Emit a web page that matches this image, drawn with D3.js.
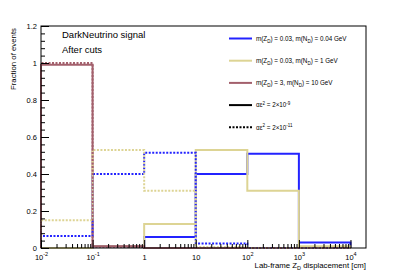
<!DOCTYPE html>
<html>
<head>
<meta charset="utf-8">
<script src="https://cdn.jsdelivr.net/npm/d3@7"></script>
<style>
  body { margin: 0; background: #fff; }
  svg { font-family: "Liberation Sans", Arial, sans-serif; }
</style>
</head>
<body>
<div id="chart"></div>
<script>
// bin edges (cm) and fraction of events per bin
var binEdges = [0.01, 0.1, 1, 10, 100, 1000, 10000];
var blueSolid = [0, 0.01, 0.06, 0.40, 0.51, 0.03];
var yellowSolid = [0, 0.01, 0.13, 0.53, 0.31, 0.01];
var brownSolid = [0.99, 0.01, 0, 0, 0, 0];
var blueDashed = [0.065, 0.40, 0.515, 0.025, 0, 0];
var yellowDashed = [0.15, 0.53, 0.31, 0.005, 0, 0];
var brownDashed = [1.0, 0.005, 0, 0, 0, 0];
var yTicks = [0, 0.2, 0.4, 0.6, 0.8, 1, 1.2];
var yTickLabels = ['0', '0.2', '0.4', '0.6', '0.8', '1', '1.2'];
var xTicks = [0.01, 0.1, 1, 10, 100, 1000, 10000];
var xTickLabels = [['10', '-2'], ['10', '-1'], ['1', ''], ['10', ''], ['10', '2'], ['10', '3'], ['10', '4']];

var width = 407, height = 276,
    frameLeft = 41, frameRight = 366, frameTop = 26, frameBottom = 248;

var svg = d3.select('#chart').append('svg')
  .attr('width', width)
  .attr('height', height);

var x = d3.scaleLog().domain([0.01, 20000]).range([frameLeft, frameRight]);
var y = d3.scaleLinear().domain([0, 1.2]).range([frameBottom, frameTop]);

var series = [
  { values: blueSolid, color: '#2323ff', dash: null },
  { values: yellowSolid, color: '#ddd494', dash: null },
  { values: brownSolid, color: '#a3606c', dash: null },
  { values: blueDashed, color: '#2323ff', dash: '2,1.5' },
  { values: yellowDashed, color: '#ddd494', dash: '2,1.5' },
  { values: brownDashed, color: '#a3606c', dash: '2,1.5' }
];

// step outline like a ROOT "HIST" draw
function stepPoints(vals) {
  var pts = [[binEdges[0], 0]];
  vals.forEach(function (v, i) {
    pts.push([binEdges[i], v]);
    pts.push([binEdges[i + 1], v]);
  });
  pts.push([binEdges[binEdges.length - 1], 0]);
  return pts;
}

var line = d3.line()
  .x(function (d) { return x(d[0]); })
  .y(function (d) { return y(d[1]); });

svg.append('g').selectAll('path')
  .data(series).enter()
  .append('path')
  .attr('d', function (d) { return line(stepPoints(d.values)); })
  .attr('fill', 'none')
  .attr('stroke', function (d) { return d.color; })
  .attr('stroke-width', 2)
  .attr('stroke-dasharray', function (d) { return d.dash; });

// y axis, ticks inside the frame
var yMinor = d3.range(0, 1.2001, 0.04).filter(function (v) {
  return Math.abs(v * 5 - Math.round(v * 5)) > 1e-6;
});
svg.append('g')
  .attr('transform', 'translate(' + frameLeft + ',0)')
  .call(d3.axisLeft(y).tickValues(yMinor).tickSize(-4).tickFormat(''))
  .call(function (g) { g.select('.domain').remove(); });
svg.append('g')
  .attr('transform', 'translate(' + frameLeft + ',0)')
  .call(d3.axisLeft(y).tickValues(yTicks).tickSize(-8).tickPadding(4)
    .tickFormat(function (d, i) { return yTickLabels[i]; }))
  .call(function (g) {
    g.select('.domain').remove();
    g.selectAll('text').attr('font-size', 7.5).attr('fill', '#000').attr('font-family', null);
  });

// x axis, log minor ticks
var xMinor = [];
for (var e = -2; e <= 4; e++) {
  for (var m = 2; m <= 9; m++) {
    var v = m * Math.pow(10, e);
    if (v < 20000) xMinor.push(v);
  }
}
svg.append('g')
  .attr('transform', 'translate(0,' + frameBottom + ')')
  .call(d3.axisBottom(x).tickValues(xMinor).tickSize(-4).tickFormat(''))
  .call(function (g) { g.select('.domain').remove(); });
var xAxis = svg.append('g')
  .attr('transform', 'translate(0,' + frameBottom + ')')
  .call(d3.axisBottom(x).tickValues(xTicks).tickSize(-8).tickFormat(''))
  .call(function (g) { g.select('.domain').remove(); });

xAxis.selectAll('.tick').each(function (d, i) {
  var t = d3.select(this).select('text')
    .attr('y', 12).attr('dy', null)
    .attr('font-size', 7.5).attr('fill', '#000').attr('font-family', null);
  t.append('tspan').text(xTickLabels[i][0]);
  if (xTickLabels[i][1]) {
    t.append('tspan').attr('font-size', 5.5).attr('dy', -4).text(xTickLabels[i][1]);
  }
});

// frame
svg.append('rect')
  .attr('x', frameLeft).attr('y', frameTop)
  .attr('width', frameRight - frameLeft).attr('height', frameBottom - frameTop)
  .attr('fill', 'none').attr('stroke', '#000').attr('stroke-width', 1);

// axis titles
svg.append('text')
  .attr('transform', 'translate(16,' + (frameTop + 2) + ') rotate(-90)')
  .attr('text-anchor', 'end')
  .attr('font-size', 7.8)
  .text('Fraction of events');

var xt = svg.append('text')
  .attr('x', frameRight).attr('y', 268)
  .attr('text-anchor', 'end')
  .attr('font-size', 7.8);
xt.append('tspan').text('Lab-frame Z');
xt.append('tspan').attr('font-size', 5.5).attr('dy', 2).text('D');
xt.append('tspan').attr('dy', -2).text(' displacement [cm]');

// captions
svg.append('text').attr('x', 62).attr('y', 38).attr('font-size', 9.5).text('DarkNeutrino signal');
svg.append('text').attr('x', 62).attr('y', 53).attr('font-size', 9.5).text('After cuts');

// legend
var legendItems = [
  { color: '#2323ff', dash: null, parts: [['m(Z', 0], ['D', 1], [') = 0.03, m(N', 0], ['D', 1], [') = 0.04 GeV', 0]] },
  { color: '#ddd494', dash: null, parts: [['m(Z', 0], ['D', 1], [') = 0.03, m(N', 0], ['D', 1], [') = 1 GeV', 0]] },
  { color: '#a3606c', dash: null, parts: [['m(Z', 0], ['D', 1], [') = 3, m(N', 0], ['D', 1], [') = 10 GeV', 0]] },
  { color: '#000', dash: null, parts: [['\u03b1\u03b5', 0], ['2', -1], [' = 2\u00d710', 0], ['-9', -1]] },
  { color: '#000', dash: '2,1.5', parts: [['\u03b1\u03b5', 0], ['2', -1], [' = 2\u00d710', 0], ['-11', -1]] }
];

var row = svg.append('g').selectAll('g')
  .data(legendItems).enter()
  .append('g')
  .attr('transform', function (d, i) {
    return 'translate(229,' + (38.5 + i * 22.2) + ')';
  });

row.append('line')
  .attr('x1', 0).attr('x2', 23)
  .attr('stroke', function (d) { return d.color; })
  .attr('stroke-width', 2)
  .attr('stroke-dasharray', function (d) { return d.dash; });

row.append('text')
  .attr('x', 27).attr('y', 2.3)
  .attr('font-size', 6.3)
  .each(function (d) {
    var t = d3.select(this), shift = 0;
    d.parts.forEach(function (p) {
      var target = p[1] === 1 ? 2 : (p[1] === -1 ? -2.5 : 0);
      var ts = t.append('tspan').attr('dy', target - shift).text(p[0]);
      if (p[1] !== 0) ts.attr('font-size', 4.5);
      shift = target;
    });
  });
</script>
</body>
</html>
